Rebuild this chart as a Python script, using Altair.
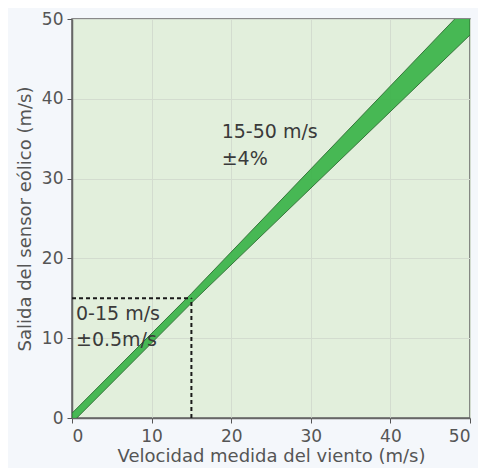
import altair as alt
import pandas as pd

# Band data (measured wind speed vs sensor output, tolerance band)
band_x = [0, 15, 50]
band_low = [-0.6, 14.4, 48.0]
band_high = [0.6, 15.6, 52.0]

# Reference (dashed) lines
ref_x = [0, 15]
ref_x2 = [15, 15]
ref_y = [15, 0]
ref_y2 = [15, 15]

# Annotations
ann_x = [18.8, 18.8, 0.5, 0.5]
ann_y = [35.8, 32.5, 13.0, 9.8]
ann_text = ["15-50 m/s", "±4%", "0-15 m/s", "±0.5m/s"]

FONT = "DejaVu Sans"

band = pd.DataFrame({"x": band_x, "lo": band_low, "hi": band_high})
refs = pd.DataFrame({"x": ref_x, "x2": ref_x2, "y": ref_y, "y2": ref_y2})
ann = pd.DataFrame({"x": ann_x, "y": ann_y, "t": ann_text})

xs = alt.Scale(domain=[0, 50], nice=False, zero=False)
ys = alt.Scale(domain=[0, 50], nice=False, zero=False)

xaxis = alt.Axis(values=list(range(0, 51, 5)), labelExpr="datum.value % 10 == 0 ? datum.label : ''",
                 title="Velocidad  medida del viento (m/s)")
yaxis = alt.Axis(values=list(range(0, 51, 5)), labelExpr="datum.value % 10 == 0 ? datum.label : ''",
                 title="Salida del sensor eólico (m/s)")

area = alt.Chart(band).mark_area(clip=True, color="#3cb44a", stroke="#2a6e30", strokeWidth=1, opacity=0.93).encode(
    x=alt.X("x:Q", scale=xs, axis=xaxis),
    y=alt.Y("lo:Q", scale=ys, axis=yaxis),
    y2="hi:Q",
)

rules = alt.Chart(refs).mark_rule(color="#1a1a1a", strokeWidth=2, strokeDash=[4, 3]).encode(
    x="x:Q", x2="x2:Q", y="y:Q", y2="y2:Q"
)

texts = alt.Chart(ann).mark_text(align="left", baseline="middle", fontSize=19, font=FONT, color="#3a3a3a").encode(
    x="x:Q", y="y:Q", text="t:N"
)

chart = alt.layer(area, rules, texts).properties(
    width=398, height=399,
    autosize=alt.AutoSizeParams(type="none"),
    padding={"left": 64, "top": 11, "right": 8, "bottom": 50},
    background="#f4f7fb",
).configure_view(
    fill="#e2efdc", stroke="#666666", strokeWidth=1.5
).configure_axis(
    grid=True, gridColor="#d3dccf", gridWidth=1,
    domainColor="#666666", domainWidth=1.5,
    tickColor="#555555", tickSize=5,
    labelFont=FONT, labelFontSize=17, labelColor="#555555",
    titleFont=FONT, titleFontSize=18, titleColor="#555555", titleFontWeight="normal",
).configure_axisY(titlePadding=7, labelPadding=4).configure_axisX(titlePadding=3, labelPadding=5)

chart.save("out.html", embed_options={"renderer": "svg", "actions": False})
